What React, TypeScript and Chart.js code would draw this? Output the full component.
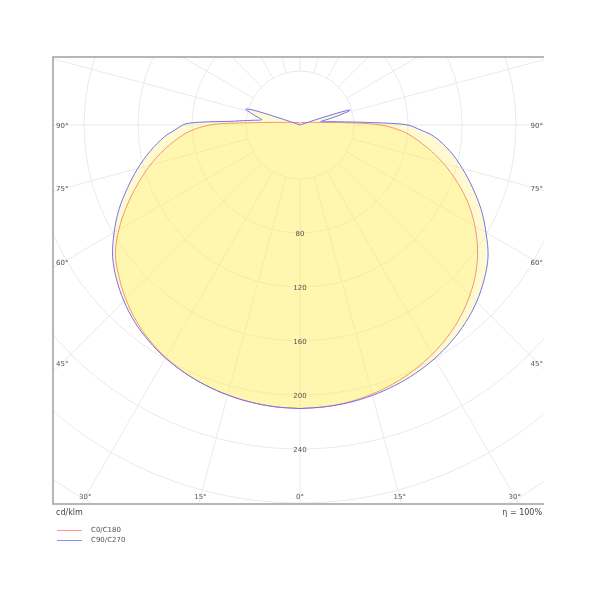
import React, { useEffect, useRef } from "react";
import { Chart, registerables } from "chart.js";

Chart.register(...registerables);

// Gamma angles (degrees from nadir)
const GAMMA = [0, 5, 10, 15, 20, 25, 30, 35, 40, 45, 50, 55, 60, 65, 70, 75, 80, 85, 88, 90, 91, 92, 93, 94, 95, 96, 97, 98, 99, 100, 102, 104, 105, 106, 107, 108, 109, 110, 111, 112, 115, 120, 135, 150, 165, 180];

// Luminous intensity, cd/klm
const C0 = [210, 209.5, 208.3, 206.3, 203.6, 200.2, 196, 191, 185, 178, 170, 160.5, 149.5, 137.5, 124, 110, 95.5, 81, 70, 60, 52, 42, 33, 27, 22, 19, 16, 14, 12.5, 11, 9.5, 8, 7.5, 7, 6.5, 6, 5.8, 5.5, 5.2, 5, 4.5, 3.8, 2.5, 2, 1.7, 1.5];
const C180 = [210, 209.5, 208.5, 207, 205, 202.3, 198.8, 194.5, 189, 182.5, 175, 167, 155, 141.5, 128, 115, 101.5, 87.5, 77, 67, 59, 45, 34, 27, 22, 19, 16, 14, 12.5, 11, 9.5, 8, 7.5, 7, 6.5, 6, 5.8, 5.5, 5.2, 5, 4.5, 3.8, 2.5, 2, 1.7, 1.5];
const C90 = [210, 209.5, 208.7, 207.3, 205.3, 202.8, 199.6, 195.6, 190.8, 185, 178, 170, 159, 148, 136, 124.5, 113, 100, 88, 80, 68, 53, 42, 33, 28, 24, 20, 17.5, 15.5, 16, 22, 30, 34, 38, 38.5, 25, 8, 1, 0, 0, 0, 0, 0, 0, 0, 0];
const C270 = [210, 209.5, 208.5, 207, 205, 202.5, 199.3, 195.3, 190.5, 184.5, 177.5, 169.5, 159, 148, 136, 124.5, 113, 101, 92, 87, 82, 68, 52, 45, 39, 34, 30, 28.5, 29.5, 31, 34.5, 38, 40, 42, 41, 32, 12, 3, 0, 0, 0, 0, 0, 0, 0, 0];

const SERIES_NAMES = ["C0/C180", "C90/C270"];
const RING_VALUES = [40, 80, 120, 160, 200, 240, 280, 320, 360, 400, 440];
const RING_LABELS = [80, 120, 160, 200, 240];
const ANGLE_LINES_STEP = 15;
const SIDE_ANGLE_LABELS = [90, 75, 60, 45];
const BOTTOM_ANGLE_LABELS = [-30, -15, 0, 15, 30];
const UNIT_LABEL = "cd/klm";
const EFFICIENCY_LABEL = "η = 100%";

const X_MIN = -183;
const X_MAX = 180.7;
const Y_MIN = -280.7;
const Y_MAX = 50.4;

const RED = "rgba(240,115,115,1)";
const BLUE = "rgba(115,115,240,1)";
const FILL = "rgba(255,236,90,0.28)";
const FONT = '"DejaVu Sans", Verdana, sans-serif';

function polarPoints(right: number[], left: number[]) {
  const pts: { x: number; y: number }[] = [];
  for (let i = 0; i < GAMMA.length; i++) {
    const a = (GAMMA[i] * Math.PI) / 180;
    pts.push({ x: right[i] * Math.sin(a), y: -right[i] * Math.cos(a) });
  }
  for (let i = GAMMA.length - 1; i >= 0; i--) {
    const a = (GAMMA[i] * Math.PI) / 180;
    pts.push({ x: -left[i] * Math.sin(a), y: -left[i] * Math.cos(a) });
  }
  return pts;
}

const polarGrid = {
  id: "polarGrid",
  beforeDatasetsDraw(chart: any) {
    const { ctx, chartArea: a, scales } = chart;
    const cx = scales.x.getPixelForValue(0);
    const cy = scales.y.getPixelForValue(0);
    const k = scales.x.getPixelForValue(1) - cx;
    ctx.save();
    ctx.beginPath();
    ctx.rect(a.left, a.top, a.right - a.left, a.bottom - a.top);
    ctx.clip();
    ctx.strokeStyle = "#eaeaea";
    ctx.lineWidth = 1;
    RING_VALUES.forEach((v) => {
      ctx.beginPath();
      ctx.arc(cx, cy, v * k, 0, Math.PI * 2);
      ctx.stroke();
    });
    const r0 = RING_VALUES[0] * k;
    for (let g = 0; g < 360; g += ANGLE_LINES_STEP) {
      const t = (g * Math.PI) / 180;
      ctx.beginPath();
      ctx.moveTo(cx + r0 * Math.sin(t), cy + r0 * Math.cos(t));
      ctx.lineTo(cx + 1000 * Math.sin(t), cy + 1000 * Math.cos(t));
      ctx.stroke();
    }
    ctx.restore();
  },
  afterDatasetsDraw(chart: any) {
    const { ctx, chartArea: a, scales } = chart;
    const cx = scales.x.getPixelForValue(0);
    const cy = scales.y.getPixelForValue(0);
    const k = scales.x.getPixelForValue(1) - cx;
    ctx.save();
    ctx.fillStyle = "#555";
    ctx.font = `7px ${FONT}`;
    ctx.textBaseline = "middle";
    ctx.textAlign = "center";
    RING_LABELS.forEach((v) => {
      ctx.fillText(String(v), cx, cy + v * k + 1);
    });
    SIDE_ANGLE_LABELS.forEach((g) => {
      const t = (g * Math.PI) / 180;
      const xl = a.left + 8;
      const dx = cx - xl;
      const yy = g === 90 ? cy + 1 : cy + dx / Math.tan(t);
      ctx.textAlign = "left";
      ctx.fillText(`${g}°`, a.left + 3, yy);
      ctx.textAlign = "right";
      ctx.fillText(`${g}°`, a.right - 1, yy);
    });
    ctx.textAlign = "center";
    BOTTOM_ANGLE_LABELS.forEach((g) => {
      const t = (g * Math.PI) / 180;
      const yy = a.bottom - 7;
      const xx = cx + (yy - cy) * Math.tan(t);
      ctx.fillText(`${Math.abs(g)}°`, xx, yy);
    });
    ctx.strokeStyle = "#a0a0a0";
    ctx.lineWidth = 1.5;
    ctx.beginPath();
    ctx.moveTo(a.right, a.top);
    ctx.lineTo(a.left, a.top);
    ctx.lineTo(a.left, a.bottom);
    ctx.lineTo(a.right, a.bottom);
    ctx.stroke();
    ctx.restore();
  },
  afterDraw(chart: any) {
    const { ctx, chartArea: a } = chart;
    ctx.save();
    ctx.fillStyle = "#444";
    ctx.textBaseline = "middle";
    ctx.font = `8px ${FONT}`;
    ctx.textAlign = "left";
    ctx.fillText(UNIT_LABEL, a.left + 3, a.bottom + 9);
    ctx.textAlign = "right";
    ctx.fillText(EFFICIENCY_LABEL, a.right - 2, a.bottom + 9);
    const colors = ["rgba(255,150,150,1)", "rgba(140,140,245,1)"];
    ctx.font = `7px ${FONT}`;
    ctx.textAlign = "left";
    SERIES_NAMES.forEach((name, i) => {
      const yy = a.bottom + 26 + i * 10;
      ctx.strokeStyle = colors[i];
      ctx.lineWidth = 1;
      ctx.beginPath();
      ctx.moveTo(a.left + 4, yy + 0.5);
      ctx.lineTo(a.left + 29, yy + 0.5);
      ctx.stroke();
      ctx.fillStyle = "#555";
      ctx.fillText(name, a.left + 38, yy);
    });
    ctx.restore();
  },
};

export default function App() {
  const ref = useRef<HTMLCanvasElement | null>(null);
  useEffect(() => {
    if (!ref.current) return;
    const common = {
      showLine: true,
      fill: "shape",
      backgroundColor: FILL,
      borderWidth: 1,
      pointRadius: 0,
      tension: 0.35,
      capBezierPoints: false,
    };
    const chart = new Chart(ref.current, {
      type: "scatter",
      data: {
        datasets: [
          { ...common, label: SERIES_NAMES[1], data: polarPoints(C90, C270), borderColor: BLUE },
          { ...common, label: SERIES_NAMES[0], data: polarPoints(C0, C180), borderColor: RED },
        ],
      },
      options: {
        animation: false,
        responsive: false,
        layout: { padding: { left: 45, top: 49, right: 48, bottom: 88 } },
        scales: {
          x: { type: "linear", min: X_MIN, max: X_MAX, display: false },
          y: { type: "linear", min: Y_MIN, max: Y_MAX, display: false },
        },
        plugins: { legend: { display: false }, tooltip: { enabled: false } },
      },
      plugins: [polarGrid],
    } as any);
    return () => chart.destroy();
  }, []);
  return (
    <div style={{ width: 584, height: 584 }}>
      <canvas ref={ref} width={584} height={584} />
    </div>
  );
}
